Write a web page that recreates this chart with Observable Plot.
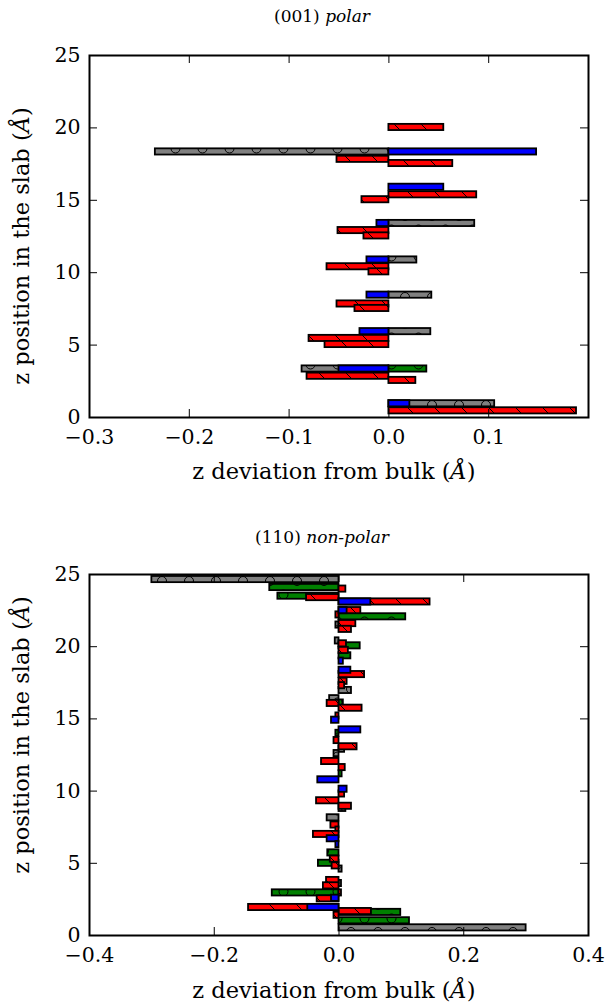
<!DOCTYPE html>
<html>
<head>
<meta charset="utf-8">
<script src="https://cdn.jsdelivr.net/npm/d3@7"></script>
<script src="https://cdn.jsdelivr.net/npm/@observablehq/plot@0.6"></script>
<style>
  html, body { margin: 0; padding: 0; background: #fff; }
  #chart { width: 612px; }
  #chart svg { display: block; }
</style>
</head>
<body>
<div id="chart"></div>
<script>
// ---------- data: panel (001) polar ----------
const yTicks = [0, 5, 10, 15, 20, 25];
const topXTicks = [-0.3, -0.2, -0.1, 0.0, 0.1];
const topXDomain = [-0.3, 0.2];

const topGrayZ  = [18.34, 13.4, 10.88, 8.45, 5.93, 3.35, 0.95];
const topGrayDz = [-0.234, 0.086, 0.028, 0.043, 0.042, -0.087, 0.106];
const topGreenZ  = [3.35];
const topGreenDz = [0.038];
const topRedZ  = [20.03, 17.83, 17.54, 15.38, 15.04, 12.91, 12.54, 10.41, 10.06, 7.84, 7.53, 5.46, 5.04, 2.85, 2.56, 0.46];
const topRedDz = [0.055, -0.052, 0.064, 0.088, -0.027, -0.051, -0.025, -0.062, -0.020, -0.052, -0.034, -0.080, -0.064, -0.082, 0.027, 0.188];
const topBlueZ  = [18.34, 15.9, 13.4, 10.88, 8.45, 5.93, 3.35, 0.95];
const topBlueDz = [0.148, 0.055, -0.012, -0.022, -0.022, -0.029, -0.050, 0.021];

// ---------- data: panel (110) non-polar ----------
const botXTicks = [-0.4, -0.2, 0.0, 0.2, 0.4];
const botXDomain = [-0.4, 0.4];

const botGrayZ  = [24.65, 21.5, 20.4, 16.97, 16.4, 12.9, 12.6, 8.8, 8.15, 4.6, 3.6, 0.53];
const botGrayDz = [-0.300, -0.005, -0.006, 0.020, -0.015, 0.009, -0.008, 0.011, -0.019, 0.005, 0.004, 0.300];
const botGreenZ  = [24.1, 23.5, 22.07, 20.06, 19.37, 16.1, 14.0, 11.2, 5.72, 5.0, 2.95, 1.6, 1.02];
const botGreenDz = [-0.111, -0.098, 0.107, 0.034, 0.019, 0.007, -0.005, 0.005, -0.018, -0.033, -0.107, 0.099, 0.113];
const botRedZ  = [23.99, 23.4, 23.1, 22.5, 22.2, 21.6, 21.2, 20.2, 19.74, 18.07, 17.6, 17.3, 16.07, 15.74, 15.2, 13.5, 13.07, 12.05, 11.63, 9.8, 9.33, 8.95, 7.65, 7.3, 7.0, 5.29, 4.82, 3.81, 3.44, 2.95, 2.54, 1.94, 1.66, 1.4];
const botRedDz = [0.011, -0.052, 0.146, 0.035, -0.005, 0.027, 0.020, 0.012, 0.015, 0.041, 0.013, 0.009, -0.019, 0.037, -0.005, -0.008, 0.029, -0.028, 0.010, 0.009, -0.036, 0.020, -0.013, -0.005, -0.041, -0.014, -0.011, -0.020, -0.025, 0.004, -0.035, -0.145, 0.052, -0.008];
const botBlueZ  = [23.1, 22.5, 19.0, 18.37, 14.91, 14.24, 10.78, 10.13, 6.7, 6.3, 2.58, 1.94];
const botBlueDz = [0.051, 0.013, 0.007, 0.019, -0.012, 0.035, -0.034, 0.013, -0.019, -0.005, -0.012, -0.050];

// ---------- drawing ----------
const FONT = "DejaVu Serif";
const fmtX = d3.format(".1f");

function addPatterns(svg, prefix) {
  const defs = d3.select(svg).insert("defs", ":first-child");
  const lines = defs.append("pattern").attr("id", prefix + "-red")
    .attr("patternUnits", "userSpaceOnUse").attr("width", 27).attr("height", 27);
  lines.append("rect").attr("width", 27).attr("height", 27).attr("fill", "#ff0000");
  lines.append("path").attr("d", "M-1,-1L28,28M-14,13L1,28M13,-14L28,1")
    .attr("stroke", "black").attr("stroke-width", 1).attr("fill", "none");
  for (const [name, color] of [["gray", "#808080"], ["green", "#008000"]]) {
    const p = defs.append("pattern").attr("id", prefix + "-" + name)
      .attr("patternUnits", "userSpaceOnUse").attr("width", 27).attr("height", 27);
    p.append("rect").attr("width", 27).attr("height", 27).attr("fill", color);
    for (const [cx, cy] of [[0, 0], [27, 0], [0, 27], [27, 27], [13.5, 13.5]]) {
      p.append("circle").attr("cx", cx).attr("cy", cy).attr("r", 4.5)
        .attr("fill", "none").attr("stroke", "black").attr("stroke-width", 1);
    }
  }
}

function drawPanel(cfg) {
  const width = 612, marginLeft = 89, marginRight = 24;
  const {height, marginTop, marginBottom, xDomain, xTicks, series, prefix} = cfg;
  const yDomain = [0, 25];
  const pxZ = (height - marginTop - marginBottom) / (yDomain[1] - yDomain[0]);
  const pxX = (width - marginLeft - marginRight) / (xDomain[1] - xDomain[0]);
  const hh = 3.1 / pxZ;       // half bar thickness
  const tz = 8 / pxZ, tx = 8 / pxX; // inward tick length
  const marks = [];
  for (const s of series) {
    const rows = s.z.map((z, i) => ({z, dz: s.dz[i]}));
    marks.push(Plot.rect(rows, {
      x1: 0, x2: "dz",
      y1: d => d.z - hh, y2: d => d.z + hh,
      fill: s.fill, stroke: "black", strokeWidth: 1.8
    }));
  }
  const xt = d3.range(xDomain[0], xDomain[1] + 1e-9, xTicks[1] - xTicks[0]);
  marks.push(
    Plot.ruleX(xt, {x: d => d, y1: yDomain[0], y2: yDomain[0] + tz, stroke: "black", strokeWidth: 1}),
    Plot.ruleX(xt, {x: d => d, y1: yDomain[1] - tz, y2: yDomain[1], stroke: "black", strokeWidth: 1}),
    Plot.ruleY(yTicks, {y: d => d, x1: xDomain[0], x2: xDomain[0] + tx, stroke: "black", strokeWidth: 1}),
    Plot.ruleY(yTicks, {y: d => d, x1: xDomain[1] - tx, x2: xDomain[1], stroke: "black", strokeWidth: 1}),
    Plot.axisX({ticks: xTicks, tickSize: 0, tickPadding: 12, tickFormat: fmtX, label: null, fontSize: 20.5}),
    Plot.axisY({ticks: yTicks, tickSize: 0, tickPadding: 9, tickFormat: d3.format("d"), label: null, fontSize: 20.5}),
    Plot.frame({stroke: "black", strokeWidth: 2})
  );
  const svg = Plot.plot({
    width, height, marginTop, marginBottom, marginLeft, marginRight,
    x: {domain: xDomain},
    y: {domain: yDomain},
    style: {fontFamily: FONT, fontSize: "20px", background: "white", overflow: "visible", color: "black"},
    marks
  });
  addPatterns(svg, prefix);
  const g = d3.select(svg).append("g").attr("font-family", FONT).attr("fill", "black");
  // title
  const t = g.append("text").attr("x", cfg.titleX).attr("y", cfg.titleY)
    .attr("text-anchor", "middle").attr("font-size", 17);
  t.append("tspan").text(cfg.titleMain + " ");
  t.append("tspan").attr("font-style", "italic").text(cfg.titleItalic);
  // x label
  const xl = g.append("text").attr("x", cfg.xLabelX).attr("y", cfg.xLabelY)
    .attr("text-anchor", "middle").attr("font-size", 22.5);
  xl.append("tspan").text("z deviation from bulk (");
  xl.append("tspan").attr("font-style", "italic").text("Å");
  xl.append("tspan").text(")");
  // y label
  const yl = g.append("text")
    .attr("transform", `translate(${cfg.yLabelX},${cfg.yLabelY}) rotate(-90)`)
    .attr("text-anchor", "middle").attr("font-size", 22.5);
  yl.append("tspan").text("z position in the slab (");
  yl.append("tspan").attr("font-style", "italic").text("Å");
  yl.append("tspan").text(")");
  return svg;
}

const chart = document.getElementById("chart");

chart.appendChild(drawPanel({
  prefix: "p1", height: 500, marginTop: 55, marginBottom: 83,
  xDomain: topXDomain, xTicks: topXTicks,
  series: [
    {z: topGrayZ, dz: topGrayDz, fill: "url(#p1-gray)"},
    {z: topGreenZ, dz: topGreenDz, fill: "url(#p1-green)"},
    {z: topRedZ, dz: topRedDz, fill: "url(#p1-red)"},
    {z: topBlueZ, dz: topBlueDz, fill: "#0000ff"}
  ],
  titleMain: "(001)", titleItalic: "polar", titleX: 322, titleY: 22,
  xLabelX: 334, xLabelY: 479, yLabelX: 29, yLabelY: 246
}));

chart.appendChild(drawPanel({
  prefix: "p2", height: 503, marginTop: 74, marginBottom: 68,
  xDomain: botXDomain, xTicks: botXTicks,
  series: [
    {z: botGrayZ, dz: botGrayDz, fill: "url(#p2-gray)"},
    {z: botGreenZ, dz: botGreenDz, fill: "url(#p2-green)"},
    {z: botRedZ, dz: botRedDz, fill: "url(#p2-red)"},
    {z: botBlueZ, dz: botBlueDz, fill: "#0000ff"}
  ],
  titleMain: "(110)", titleItalic: "non-polar", titleX: 322, titleY: 43,
  xLabelX: 334, xLabelY: 498, yLabelX: 29, yLabelY: 235
}));
</script>
</body>
</html>
